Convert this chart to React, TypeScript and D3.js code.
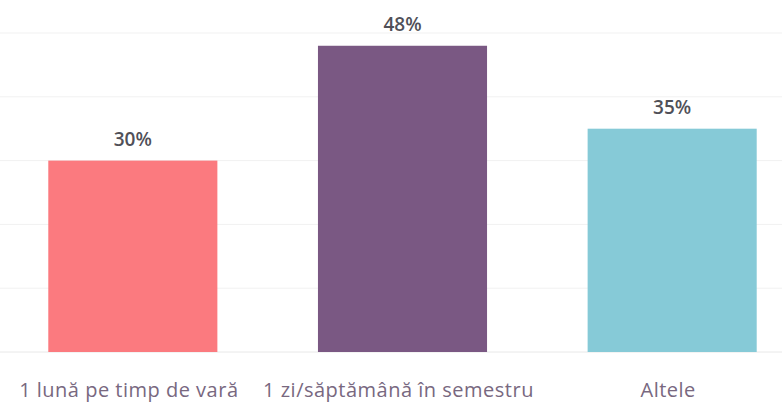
import React from "react";
import * as d3 from "d3";

const categories = ["1 lună pe timp de vară", "1 zi/săptămână în semestru", "Altele"];
const values = [30, 48, 35];
const valueLabels = ["30%", "48%", "35%"];
const barColors = ["#fb7a7f", "#7a5883", "#86cad7"];
const gridTicks = [0, 10, 20, 30, 40, 50];

const W = 782;
const H = 408;

export default function App() {
  const x = d3
    .scaleBand<string>()
    .domain(categories)
    .range([-2, 807])
    .paddingInner(0.373)
    .paddingOuter(0.1865);
  const y = d3.scaleLinear().domain([0, 50]).range([352, 33]);

  return (
    <svg
      width={W}
      height={H}
      style={{ position: "absolute", left: 0, top: 0, background: "#fff" }}
    >
      <g>
        {gridTicks.map((t) => (
          <line
            key={t}
            x1={0}
            x2={W}
            y1={y(t)}
            y2={y(t)}
            stroke={t === 0 ? "#e8e8e8" : "#f1f1f1"}
            strokeWidth={1}
          />
        ))}
      </g>
      <g>
        {categories.map((c, i) => (
          <rect
            key={c}
            x={x(c)}
            y={y(values[i])}
            width={x.bandwidth()}
            height={y(0) - y(values[i])}
            fill={barColors[i]}
          />
        ))}
      </g>
      <g fontFamily="'Open Sans', sans-serif">
        {categories.map((c, i) => (
          <text
            key={c + "v"}
            x={(x(c) as number) + x.bandwidth() / 2}
            y={y(values[i]) - 15}
            textAnchor="middle"
            fontSize={19}
            fontWeight={600}
            fill="#505058"
          >
            {valueLabels[i]}
          </text>
        ))}
        {categories.map((c, i) => (
          <text
            key={c + "c"}
            x={(x(c) as number) + x.bandwidth() / 2 - 4}
            y={397}
            textAnchor="middle"
            fontSize={20}
            letterSpacing={0.5}
            fill="#78687f"
          >
            {c}
          </text>
        ))}
      </g>
    </svg>
  );
}
